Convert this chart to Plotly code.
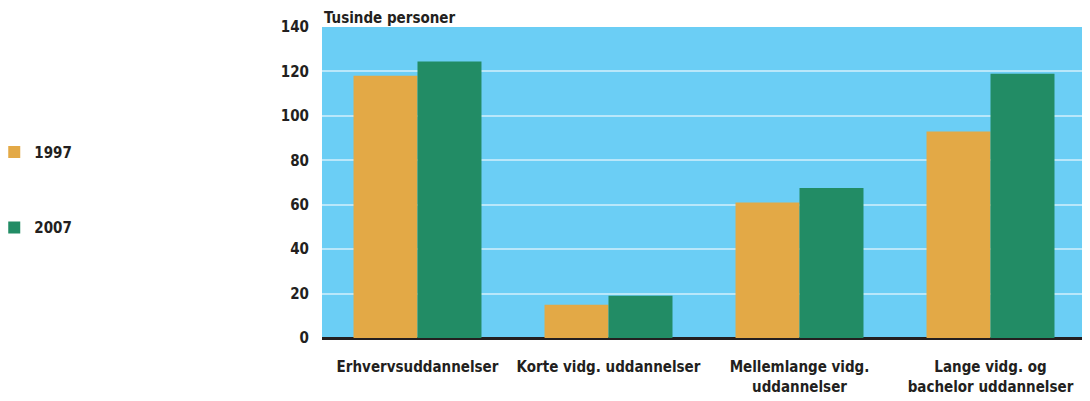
import plotly.graph_objects as go

categories = ["Erhvervsuddannelser", "Korte vidg. uddannelser",
              "Mellemlange vidg.<br>uddannelser", "Lange vidg. og<br>bachelor uddannelser"]
values_1997 = [118, 15, 61, 93]
values_2007 = [124.5, 19, 67.5, 119]
series_names = ["1997", "2007"]
y_ticks = [0, 20, 40, 60, 80, 100, 120, 140]

FONT = "Liberation Sans Narrow, DejaVu Sans Condensed, Arial Narrow, sans-serif"

fig = go.Figure()
fig.add_trace(go.Bar(x=categories, y=values_1997, name=series_names[0],
                     marker=dict(color="#E3A946", line=dict(width=0)),
                     legendgroup="a"))
fig.add_trace(go.Bar(x=categories, y=values_2007, name=series_names[1],
                     marker=dict(color="#228C65", line=dict(width=0)),
                     legendgroup="b"))

# page body has an 8px default margin, so the figure is sized to fit the window
fig.update_layout(
    width=1082, height=393,
    margin=dict(l=314, r=4, t=19, b=63, autoexpand=False),
    paper_bgcolor="white",
    plot_bgcolor="#6BCEF5",
    barmode="group",
    bargap=0.33,
    bargroupgap=0,
    font=dict(family=FONT, size=15, color="#231F20"),
    showlegend=True,
    legend=dict(x=-0.429, xanchor="left", y=0.65, yanchor="top",
                traceorder="grouped", tracegroupgap=53,
                font=dict(family=FONT, size=15, color="#231F20", weight="bold"),
                bgcolor="rgba(0,0,0,0)"),
    xaxis=dict(showgrid=False, ticks="", ticklabelstandoff=18, automargin=False,
               tickfont=dict(family=FONT, size=15, color="#231F20", weight="bold"),
               showline=False),
    yaxis=dict(range=[0, 140], tickvals=y_ticks, showgrid=True, automargin=False,
               gridcolor="#B9E7FA", gridwidth=2,
               zeroline=True, zerolinecolor="#231F20", zerolinewidth=3,
               ticks="", ticklabelstandoff=12,
               tickfont=dict(family=FONT, size=15, color="#231F20", weight="bold"),
               showline=False),
    annotations=[dict(text="Tusinde personer", x=0, y=1, xref="paper", yref="paper",
                      xanchor="left", yanchor="bottom", showarrow=False,
                      yshift=-2,
                      font=dict(family=FONT, size=15, color="#231F20", weight="bold"))],
)

fig.write_html("out.html")
